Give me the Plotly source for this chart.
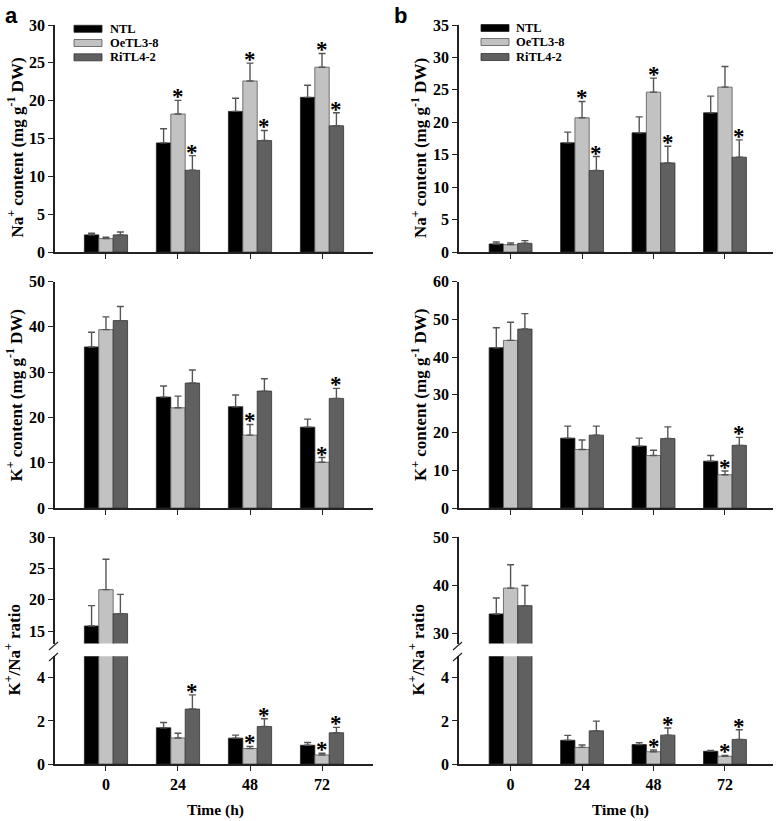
import plotly.graph_objects as go

W, H = 778, 821
SERIF = "Liberation Serif, Times New Roman, serif"
SANS = "Liberation Sans, Arial, sans-serif"

times = ["0", "24", "48", "72"]
series = ["NTL", "OeTL3-8", "RiTL4-2"]
colors = ["#000000", "#c2c2c2", "#606060"]
outline = ["#222222", "#555555", "#333333"]

# ---- panel a : Na+ content ----
na_a_ntl = [2.26, 14.42, 18.58, 20.44]
na_a_oe = [1.77, 18.23, 22.60, 24.42]
na_a_ri = [2.26, 10.80, 14.73, 16.68]
na_a_ntl_err = [0.22, 1.86, 1.73, 1.59]
na_a_oe_err = [0.18, 1.81, 2.36, 1.82]
na_a_ri_err = [0.39, 1.94, 1.33, 1.72]
na_a_oe_sig = [0, 1, 1, 1]
na_a_ri_sig = [0, 1, 1, 1]

# ---- panel b : Na+ content ----
na_b_ntl = [1.24, 16.83, 18.37, 21.46]
na_b_oe = [1.13, 20.69, 24.65, 25.42]
na_b_ri = [1.34, 12.56, 13.74, 14.62]
na_b_ntl_err = [0.30, 1.65, 2.47, 2.57]
na_b_oe_err = [0.26, 2.52, 2.16, 3.19]
na_b_ri_err = [0.41, 2.16, 2.57, 2.67]
na_b_oe_sig = [0, 1, 1, 0]
na_b_ri_sig = [0, 1, 1, 1]

# ---- panel a : K+ content ----
k_a_ntl = [35.55, 24.48, 22.35, 17.85]
k_a_oe = [39.38, 22.12, 16.08, 10.10]
k_a_ri = [41.37, 27.58, 25.81, 24.19]
k_a_ntl_err = [3.24, 2.44, 2.58, 1.77]
k_a_oe_err = [2.80, 2.58, 2.36, 1.04]
k_a_ri_err = [3.10, 2.88, 2.73, 2.21]
k_a_oe_sig = [0, 0, 1, 1]
k_a_ri_sig = [0, 0, 0, 1]

# ---- panel b : K+ content ----
k_b_ntl = [42.45, 18.50, 16.40, 12.40]
k_b_oe = [44.40, 15.50, 13.90, 8.80]
k_b_ri = [47.40, 19.30, 18.40, 16.60]
k_b_ntl_err = [5.30, 3.20, 2.10, 1.50]
k_b_oe_err = [4.80, 2.50, 1.40, 1.00]
k_b_ri_err = [4.10, 2.40, 3.10, 2.10]
k_b_oe_sig = [0, 0, 0, 1]
k_b_ri_sig = [0, 0, 0, 1]

# ---- panel a : K+/Na+ ratio ----
r_a_ntl = [15.80, 1.68, 1.20, 0.87]
r_a_oe = [21.62, 1.21, 0.72, 0.42]
r_a_ri = [17.78, 2.55, 1.74, 1.45]
r_a_ntl_err = [3.26, 0.25, 0.14, 0.13]
r_a_oe_err = [4.86, 0.22, 0.10, 0.08]
r_a_ri_err = [3.09, 0.66, 0.36, 0.25]
r_a_oe_sig = [0, 0, 1, 1]
r_a_ri_sig = [0, 1, 1, 1]

# ---- panel b : K+/Na+ ratio ----
r_b_ntl = [34.12, 1.10, 0.90, 0.59]
r_b_oe = [39.48, 0.77, 0.57, 0.36]
r_b_ri = [35.84, 1.54, 1.34, 1.14]
r_b_ntl_err = [3.30, 0.23, 0.09, 0.04]
r_b_oe_err = [4.82, 0.11, 0.08, 0.04]
r_b_ri_err = [4.19, 0.45, 0.33, 0.45]
r_b_oe_sig = [0, 0, 1, 1]
r_b_ri_sig = [0, 0, 1, 1]

BARGAP = 0.4


def px_x(p):
    return p / W


def px_y(p):
    return 1 - p / H


COLX = {"a": (55, 373), "b": (459, 773)}
XRANGE = {"a": [-0.708, 3.708], "b": [-0.722, 3.672]}
ROWY = {"top": (25, 252), "mid": (281.5, 508), "up": (537.3, 643.5), "low": (656.3, 764)}

fig = go.Figure()
layout = {}
annotations = []
shapes = []

subplots = [
    (1, "a", "top", [0, 30], [0, 5, 10, 15, 20, 25, 30], False, True,
     [na_a_ntl, na_a_oe, na_a_ri], [na_a_ntl_err, na_a_oe_err, na_a_ri_err], [None, na_a_oe_sig, na_a_ri_sig]),
    (2, "b", "top", [0, 35], [0, 5, 10, 15, 20, 25, 30, 35], False, True,
     [na_b_ntl, na_b_oe, na_b_ri], [na_b_ntl_err, na_b_oe_err, na_b_ri_err], [None, na_b_oe_sig, na_b_ri_sig]),
    (3, "a", "mid", [0, 50], [0, 10, 20, 30, 40, 50], False, True,
     [k_a_ntl, k_a_oe, k_a_ri], [k_a_ntl_err, k_a_oe_err, k_a_ri_err], [None, k_a_oe_sig, k_a_ri_sig]),
    (4, "b", "mid", [0, 60], [0, 10, 20, 30, 40, 50, 60], False, True,
     [k_b_ntl, k_b_oe, k_b_ri], [k_b_ntl_err, k_b_oe_err, k_b_ri_err], [None, k_b_oe_sig, k_b_ri_sig]),
    (5, "a", "up", [13, 30], [15, 20, 25, 30], False, False,
     [r_a_ntl, r_a_oe, r_a_ri], [r_a_ntl_err, r_a_oe_err, r_a_ri_err], [None, None, None]),
    (6, "b", "up", [28, 50], [30, 40, 50], False, False,
     [r_b_ntl, r_b_oe, r_b_ri], [r_b_ntl_err, r_b_oe_err, r_b_ri_err], [None, None, None]),
    (7, "a", "low", [0, 5], [0, 2, 4], True, True,
     [r_a_ntl, r_a_oe, r_a_ri], [r_a_ntl_err, r_a_oe_err, r_a_ri_err], [None, r_a_oe_sig, r_a_ri_sig]),
    (8, "b", "low", [0, 5], [0, 2, 4], True, True,
     [r_b_ntl, r_b_oe, r_b_ri], [r_b_ntl_err, r_b_oe_err, r_b_ri_err], [None, r_b_oe_sig, r_b_ri_sig]),
]

tickfont = dict(family=SERIF, size=16, color="black", weight="bold")
xpos = list(range(len(times)))
bw = (1 - BARGAP) / len(series)
offsets = [(k - (len(series) - 1) / 2) * bw for k in range(len(series))]

for sid, col, row, yr, tv, showxl, xvis, data, errs, sigs in subplots:
    xn = "x" if sid == 1 else f"x{sid}"
    yn = "y" if sid == 1 else f"y{sid}"
    xl = "xaxis" if sid == 1 else f"xaxis{sid}"
    yl = "yaxis" if sid == 1 else f"yaxis{sid}"
    x0, x1 = COLX[col]
    y0, y1 = ROWY[row]
    xaxis = dict(
        domain=[px_x(x0), px_x(x1)], range=XRANGE[col], anchor=yn, automargin=False,
        tickvals=xpos, showticklabels=showxl,
        showline=xvis, linecolor="#222", linewidth=1.5,
        ticks="outside" if xvis else "", ticklen=5, tickwidth=1.2, tickcolor="#222",
        showgrid=False, zeroline=False, tickfont=tickfont, fixedrange=True,
    )
    if showxl:
        xaxis["ticktext"] = times
    layout[xl] = xaxis
    layout[yl] = dict(
        domain=[px_y(y1), px_y(y0)], range=yr, anchor=xn, automargin=False,
        tickvals=tv, showline=True, linecolor="#222", linewidth=1.5,
        ticks="outside", ticklen=5, tickwidth=1.2, tickcolor="#222",
        showgrid=False, zeroline=False, tickfont=tickfont, fixedrange=True,
    )
    for k in range(len(series)):
        fig.add_trace(go.Bar(
            x=xpos, y=data[k], name=series[k], xaxis=xn, yaxis=yn,
            marker=dict(color=colors[k], line=dict(color=outline[k], width=0.8)),
            error_y=dict(type="data", symmetric=False, array=errs[k],
                         arrayminus=[0] * len(times), color="#555555",
                         thickness=1.4, width=3.5),
            showlegend=False,
        ))
        if sigs[k] is not None:
            for i, s in enumerate(sigs[k]):
                if s:
                    annotations.append(dict(
                        x=xpos[i] + offsets[k], y=data[k][i] + errs[k][i],
                        xref=xn, yref=yn, text="*", showarrow=False,
                        yanchor="bottom", yshift=-11,
                        font=dict(family=SERIF, size=23, color="black", weight="bold"),
                    ))

# manual legends (wide swatches)
legend_pos = {"a": (74, 102, 108, [28.8, 43.0, 57.3]), "b": (481, 509, 514, [28.0, 42.0, 57.0])}
for col, (sx0, sx1, tx, ys) in legend_pos.items():
    for k, name in enumerate(series):
        yc = ys[k]
        shapes.append(dict(type="rect", xref="paper", yref="paper",
                           x0=px_x(sx0), x1=px_x(sx1), y0=px_y(yc + 3.5), y1=px_y(yc - 3.5),
                           fillcolor=colors[k], line=dict(color=outline[k], width=0.8)))
        annotations.append(dict(x=px_x(tx), y=px_y(yc), xref="paper", yref="paper",
                                text=name, showarrow=False, xanchor="left", yanchor="middle",
                                font=dict(family=SERIF, size=12.5, color="black", weight="bold")))

# axis break marks
for col, ax in (("a", 55), ("b", 459)):
    for (ya, yb) in ((650, 642), (661, 653)):
        shapes.append(dict(type="line", xref="paper", yref="paper",
                           x0=px_x(ax - 6), x1=px_x(ax + 3), y0=px_y(ya), y1=px_y(yb),
                           line=dict(color="#222", width=1.2)))

title_font = dict(family=SERIF, size=17, color="black", weight="bold")
ytitles = [
    ("Na<sup>+</sup> content (mg g<sup>-1</sup> DW)", 15.5, 148),
    ("Na<sup>+</sup> content (mg g<sup>-1</sup> DW)", 419, 148),
    ("K<sup>+</sup> content (mg g<sup>-1</sup> DW)", 14.5, 395),
    ("K<sup>+</sup> content (mg g<sup>-1</sup> DW)", 419, 395),
    ("K<sup>+</sup>/Na<sup>+</sup> ratio", 12.5, 650),
    ("K<sup>+</sup>/Na<sup>+</sup> ratio", 416.5, 650),
]
for txt, xp, yp in ytitles:
    annotations.append(dict(x=px_x(xp), y=px_y(yp), xref="paper", yref="paper", text=txt,
                            textangle=-90, showarrow=False, xanchor="center", yanchor="middle",
                            font=title_font))

for xp in (215, 620):
    annotations.append(dict(x=px_x(xp), y=px_y(810), xref="paper", yref="paper", text="Time (h)",
                            showarrow=False, xanchor="center", yanchor="middle",
                            font=dict(family=SERIF, size=15.5, color="black", weight="bold")))

for letter, xp in (("a", 3), ("b", 392)):
    annotations.append(dict(x=px_x(xp), y=px_y(1), xref="paper", yref="paper", text=letter,
                            showarrow=False, xanchor="left", yanchor="top",
                            font=dict(family=SANS, size=22, color="black", weight="bold")))

fig.update_layout(
    template="none",
    width=W, height=H, margin=dict(l=0, r=0, t=0, b=0, autoexpand=False),
    paper_bgcolor="white", plot_bgcolor="white",
    barmode="group", bargap=BARGAP, bargroupgap=0,
    showlegend=False, annotations=annotations, shapes=shapes,
    **layout,
)

fig.write_html("out.html", config={"displayModeBar": False},
               post_script="document.body.style.margin='0';document.body.style.overflow='hidden';")
